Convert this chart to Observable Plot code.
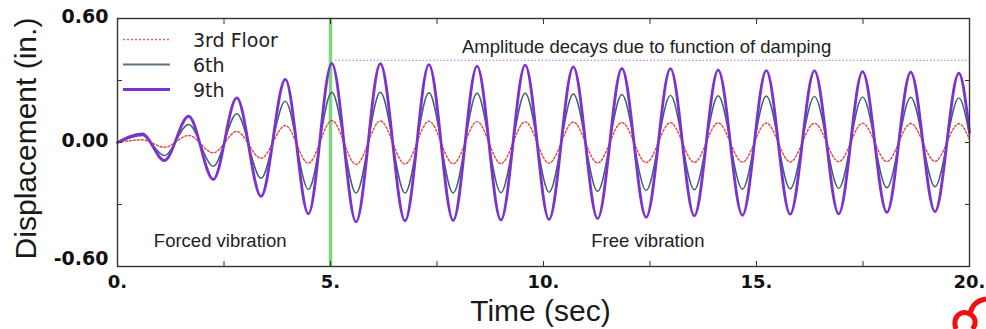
<!DOCTYPE html>
<html>
<head>
<meta charset="utf-8">
<script src="https://cdn.jsdelivr.net/npm/d3@7"></script>
<script src="https://cdn.jsdelivr.net/npm/@observablehq/plot@0.6"></script>
<style>
  html, body { margin: 0; padding: 0; background: #fff; }
  #wrap { position: relative; width: 986px; height: 329px; overflow: hidden; }
  #legend { position: absolute; left: 0; top: 0; pointer-events: none; }
</style>
</head>
<body>
<div id="wrap"></div>
<script>
// ---- Data (times of successive extrema, in seconds) ----
const times = [0, 0.58, 1.10, 1.67, 2.25, 2.80, 3.37, 3.94, 4.48, 5.03,
  5.60, 6.17, 6.75, 7.31, 7.88, 8.44, 9.00, 9.57, 10.13, 10.70,
  11.27, 11.84, 12.41, 12.98, 13.54, 14.10, 14.67, 15.23, 15.79, 16.36,
  16.93, 17.49, 18.06, 18.62, 19.19, 19.75, 20.0];

// Displacement (in.) at those times
const floor9 = [0, 0.042, -0.087, 0.127, -0.179, 0.216, -0.261, 0.305, -0.345, 0.383,
  -0.384, 0.381, -0.379, 0.377, -0.377, 0.370, -0.375, 0.374, -0.372, 0.366,
  -0.368, 0.358, -0.362, 0.357, -0.355, 0.350, -0.352, 0.348, -0.347, 0.347,
  -0.345, 0.343, -0.338, 0.340, -0.334, 0.335, 0.05];
const floor6 = [0, 0.034, -0.063, 0.087, -0.115, 0.139, -0.173, 0.200, -0.227, 0.243,
  -0.245, 0.243, -0.245, 0.241, -0.244, 0.238, -0.243, 0.238, -0.240, 0.235,
  -0.236, 0.232, -0.232, 0.228, -0.229, 0.226, -0.226, 0.225, -0.224, 0.223,
  -0.222, 0.221, -0.219, 0.219, -0.214, 0.216, 0.035];
const floor3 = [0, 0.013, -0.023, 0.034, -0.050, 0.053, -0.076, 0.082, -0.100, 0.106,
  -0.106, 0.104, -0.104, 0.103, -0.103, 0.101, -0.102, 0.100, -0.100, 0.099,
  -0.099, 0.097, -0.097, 0.096, -0.096, 0.095, -0.095, 0.094, -0.094, 0.093,
  -0.093, 0.093, -0.092, 0.092, -0.091, 0.091, 0.015];

const seriesNames = ["3rd Floor", "6th", "9th"];
const forcedEnd = [5];                       // end of forced vibration (sec)
const dampingRef = [{t0: 5.12, t1: 20, level: 0.397}];
const xTicksMajor = [0, 5, 10, 15, 20];
const xTicksAll = [0, 2.5, 5, 7.5, 10, 12.5, 15, 17.5, 20];
const yTicksAll = [-0.6, -0.3, 0, 0.3, 0.6];
const notes = [
  {t: 2.41, v: -0.479, text: "Forced vibration"},
  {t: 12.45, v: -0.479, text: "Free vibration"},
  {t: 12.42, v: 0.462, text: "Amplitude decays due to function of damping"}
];

const rows = (vals) => times.map((t, i) => ({t, v: vals[i]}));
const d3rd = rows(floor3), d6 = rows(floor6), d9 = rows(floor9);

const colors = {"3rd Floor": "#e8453f", "6th": "#3e6272", "9th": "#7b33cf"};
const tickFont = {fontFamily: "DejaVu Sans", fontWeight: "bold", fill: "#111"};

const chart = Plot.plot({
  width: 986, height: 329,
  marginLeft: 117, marginRight: 17, marginTop: 18, marginBottom: 63,
  x: {domain: [0, 20]},
  y: {domain: [-0.6, 0.6]},
  style: {background: "#fff", color: "#111", overflow: "visible"},
  marks: [
    Plot.ruleX(forcedEnd, {stroke: "#80d47e", strokeWidth: 3.5}),
    Plot.ruleY(dampingRef, {y: "level", x1: "t0", x2: "t1", stroke: "#c88ad8", strokeWidth: 1.2, strokeDasharray: "1.5,2"}),
    Plot.line(d3rd, {x: "t", y: "v", curve: "monotone-x", stroke: colors["3rd Floor"], strokeWidth: 1.4, strokeDasharray: "2,2"}),
    Plot.line(d6, {x: "t", y: "v", curve: "monotone-x", stroke: colors["6th"], strokeWidth: 1.4}),
    Plot.line(d9, {x: "t", y: "v", curve: "monotone-x", stroke: colors["9th"], strokeWidth: 2.8}),
    // inward ticks on all four sides
    Plot.axisX({anchor: "bottom", ticks: xTicksAll, tickSize: -5, tickFormat: () => "", label: null, stroke: "#333"}),
    Plot.axisX({anchor: "top", ticks: xTicksAll, tickSize: -5, tickFormat: () => "", label: null, stroke: "#333"}),
    Plot.axisY({anchor: "left", ticks: yTicksAll, tickSize: -5, tickFormat: () => "", label: null, stroke: "#333"}),
    Plot.axisY({anchor: "right", ticks: yTicksAll, tickSize: -5, tickFormat: () => "", label: null, stroke: "#333"}),
    // tick labels
    Plot.axisX({anchor: "bottom", ticks: xTicksMajor, tickSize: 0, tickPadding: 9, tickFormat: d => d + ".", label: null, fontSize: 18, ...tickFont}),
    Plot.axisY({anchor: "left", ticks: [0, 0.6], tickSize: 0, tickPadding: 9, tickFormat: d => d.toFixed(2), label: null, fontSize: 19, dy: -2, ...tickFont}),
    Plot.axisY({anchor: "left", ticks: [-0.6], tickSize: 0, tickPadding: 9, tickFormat: d => d.toFixed(2), label: null, fontSize: 19, dy: -8, ...tickFont}),
    Plot.frame({stroke: "#333", strokeWidth: 1.4}),
    // annotations
    Plot.text(notes, {x: "t", y: "v", text: "text", fontSize: 18.5, fontFamily: "Liberation Sans", fill: "#222"}),
    // axis titles
    Plot.text(["Time (sec)"], {frameAnchor: "bottom", text: d => d, textAnchor: "middle", dx: -3, dy: 54, lineAnchor: "bottom", fontSize: 30, fontFamily: "Liberation Sans", fill: "#1a1a1a"}),
    Plot.text(["Displacement (in.)"], {frameAnchor: "left", text: d => d, textAnchor: "middle", rotate: -90, dx: -82, dy: -4, lineAnchor: "bottom", fontSize: 30, fontFamily: "Liberation Sans", fill: "#1a1a1a"})
  ]
});

const wrap = document.getElementById("wrap");
wrap.appendChild(chart);

// legend (inside the plot, top-left)
const ns = "http://www.w3.org/2000/svg";
const leg = document.createElementNS(ns, "svg");
leg.setAttribute("id", "legend");
leg.setAttribute("width", 986);
leg.setAttribute("height", 329);
const legStyles = {
  "3rd Floor": {w: 1.4, dash: "2,2", color: "#e86060"},
  "6th": {w: 1.8, dash: null, color: "#5a7282"},
  "9th": {w: 3, dash: null, color: "#7b33cf"}
};
seriesNames.forEach((name, i) => {
  const y = 39.5 + i * 25;
  const ln = document.createElementNS(ns, "line");
  ln.setAttribute("x1", 123); ln.setAttribute("x2", 170);
  ln.setAttribute("y1", y); ln.setAttribute("y2", y);
  ln.setAttribute("stroke", legStyles[name].color);
  ln.setAttribute("stroke-width", legStyles[name].w);
  if (legStyles[name].dash) ln.setAttribute("stroke-dasharray", legStyles[name].dash);
  leg.appendChild(ln);
  const tx = document.createElementNS(ns, "text");
  tx.setAttribute("x", 193); tx.setAttribute("y", y + 7);
  tx.setAttribute("font-family", "DejaVu Sans");
  tx.setAttribute("font-size", 19);
  tx.setAttribute("fill", "#222");
  tx.textContent = name;
  leg.appendChild(tx);
});
// red logo fragment at the bottom-right corner of the reference image
const logo = document.createElementNS(ns, "path");
logo.setAttribute("d", "M956,329 C952,318 960,309 970,314 C977,318 976,326 972,329 M970,314 C972,305 978,300 986,299");
logo.setAttribute("fill", "none");
logo.setAttribute("stroke", "#ee1111");
logo.setAttribute("stroke-width", 5);
leg.appendChild(logo);
wrap.appendChild(leg);
</script>
</body>
</html>
